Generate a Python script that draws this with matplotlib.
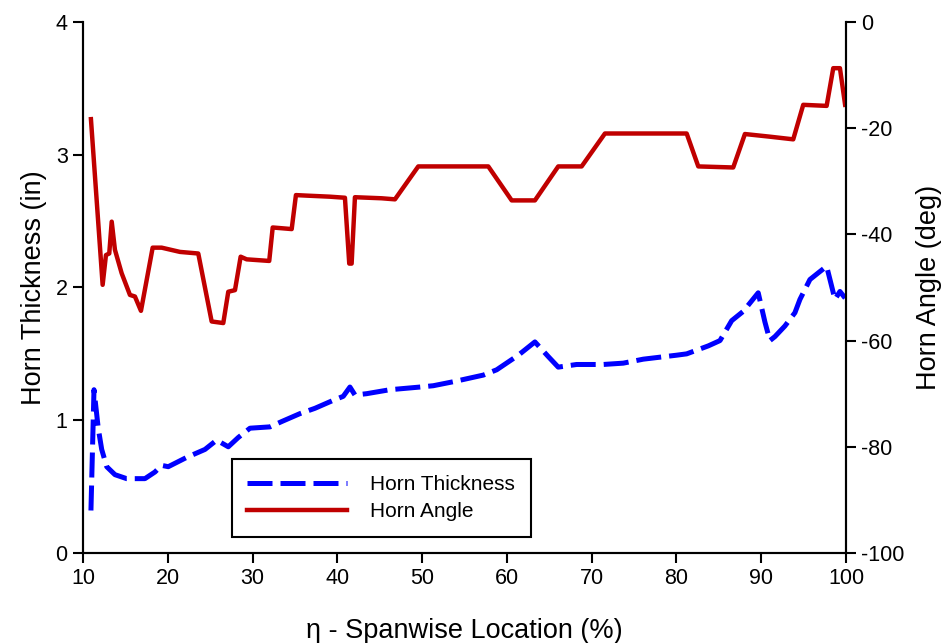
import matplotlib
matplotlib.use('Agg')
import matplotlib.pyplot as plt

plt.rcParams['font.family'] = ['Liberation Sans', 'DejaVu Sans']
plt.rcParams['axes.unicode_minus'] = False

# horn thickness (in) vs spanwise location (%)
thick_x = [10.94, 11.30, 11.80, 12.21, 12.80, 13.77, 15.15, 17.31, 18.49, 19.28,
           20.06, 22.23, 24.39, 25.77, 27.14, 28.32, 29.70, 32.06, 33.44, 35.60,
           37.37, 39.52, 40.70, 41.49, 42.08, 43.46, 46.21, 49.75, 51.32, 53.68,
           57.22, 58.80, 61.35, 63.31, 64.88, 66.06, 68.23, 71.37, 73.73, 76.09,
           80.03, 81.21, 83.76, 85.14, 86.52, 87.88, 89.65, 90.44, 91.03, 91.62,
           92.80, 93.98, 94.57, 95.75, 96.73, 97.72, 98.31, 98.70, 99.29, 99.90]
thick_y = [0.32, 1.23, 0.94, 0.78, 0.65, 0.59, 0.56, 0.56, 0.61, 0.66,
           0.65, 0.72, 0.78, 0.85, 0.80, 0.87, 0.94, 0.95, 0.99, 1.05,
           1.09, 1.15, 1.18, 1.25, 1.19, 1.20, 1.23, 1.25, 1.26, 1.29,
           1.34, 1.38, 1.49, 1.59, 1.48, 1.40, 1.42, 1.42, 1.43, 1.46,
           1.49, 1.50, 1.56, 1.60, 1.75, 1.82, 1.96, 1.74, 1.60, 1.63,
           1.71, 1.81, 1.91, 2.06, 2.11, 2.16, 2.01, 1.91, 1.97, 1.92]

# horn angle (deg) vs spanwise location (%)
angle_x = [10.94, 12.32, 12.71, 13.10, 13.39, 13.77, 14.56, 15.54, 16.13, 16.84,
           18.22, 19.28, 21.44, 23.60, 25.18, 26.55, 27.14, 27.93, 28.60, 29.31,
           31.97, 32.38, 34.62, 35.12, 36.39, 39.13, 40.90, 41.41, 41.69, 42.08,
           45.23, 46.80, 49.55, 57.81, 60.57, 63.31, 66.06, 68.82, 71.57, 81.21,
           82.58, 86.70, 88.08, 91.03, 93.78, 94.96, 97.72, 98.50, 99.29, 99.90]
angle_y = [-18.3, -49.5, -43.9, -43.6, -37.6, -42.9, -47.3, -51.4, -51.7, -54.4,
           -42.5, -42.5, -43.3, -43.6, -56.4, -56.7, -50.8, -50.5, -44.2, -44.7,
           -45.0, -38.7, -39.0, -32.6, -32.7, -32.9, -33.1, -45.5, -45.5, -33.0,
           -33.2, -33.4, -27.2, -27.2, -33.6, -33.6, -27.2, -27.2, -21.0, -21.0,
           -27.2, -27.4, -21.1, -21.6, -22.1, -15.6, -15.8, -8.7, -8.7, -15.6]

x_ticks = [10, 20, 30, 40, 50, 60, 70, 80, 90, 100]
left_ticks = [0, 1, 2, 3, 4]
right_ticks = [-100, -80, -60, -40, -20, 0]

fig = plt.figure(figsize=(9.45, 6.43), dpi=100)
fig.subplots_adjust(left=0.0878, right=0.8952, bottom=0.14, top=0.9658)
ax1 = fig.add_subplot(111)
ax2 = ax1.twinx()

l1, = ax1.plot(thick_x, thick_y, color='#0000ff', linewidth=3.6,
               dashes=(5, 1.6), label='Horn Thickness')
l2, = ax2.plot(angle_x, angle_y, color='#c00000', linewidth=3.2,
               label='Horn Angle')

ax1.set_xlim(10, 100)
ax1.set_ylim(0, 4)
ax2.set_ylim(-100, 0)
ax1.set_xticks(x_ticks)
ax1.set_yticks(left_ticks)
ax2.set_yticks(right_ticks)

for ax in (ax1, ax2):
    ax.spines['top'].set_visible(False)
    for s in ax.spines.values():
        s.set_linewidth(1.5)
    ax.tick_params(direction='out', length=7, width=1.5, labelsize=15.5, pad=4)

ax1.set_xlabel('η - Spanwise Location (%)', fontsize=19.5, labelpad=21)
ax1.set_ylabel('Horn Thickness (in)', fontsize=19.5, labelpad=6)
ax2.set_ylabel('Horn Angle (deg)', fontsize=19.5, labelpad=8)

leg = ax2.legend([l1, l2], ['Horn Thickness', 'Horn Angle'], loc='lower left',
                 bbox_to_anchor=(0.195, 0.03), borderaxespad=0, fontsize=15,
                 fancybox=False, edgecolor='black', framealpha=1, borderpad=0.75,
                 handlelength=4.8, handletextpad=1.1, labelspacing=0.4)
leg.get_frame().set_linewidth(1.5)

fig.savefig('out.png', dpi=100)
